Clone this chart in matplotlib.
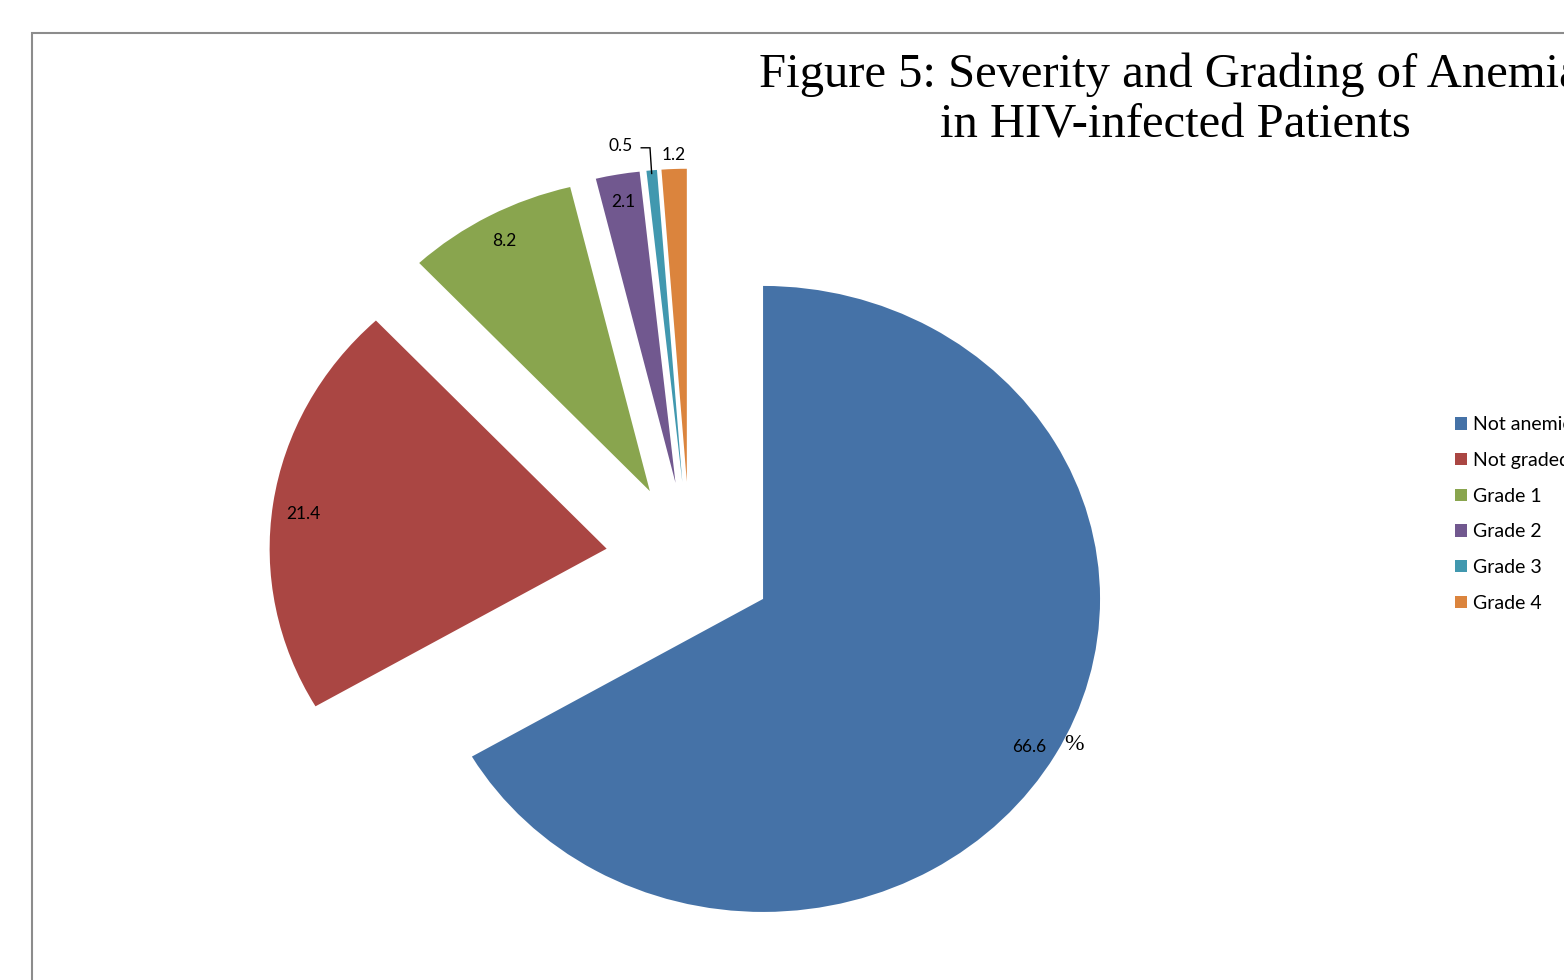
import numpy as np
import matplotlib
matplotlib.use("Agg")
from matplotlib import pyplot as plt
import matplotlib.patches as patches

# данные
categories = ["Not anemic", "Not graded", "Grade 1", "Grade 2", "Grade 3", "Grade 4"]
values = [66.6, 21.4, 8.2, 2.1, 0.5, 1.2]
colors = ["#4572A7", "#AA4643", "#89A54E", "#71588F", "#4198AF", "#DB843D"]
title_lines = ["Figure 5: Severity and Grading of Anemia", "in HIV-infected Patients"]

W, H = 1564, 980
fig = plt.figure(figsize=(W / 100, H / 100), dpi=100, facecolor="white")
ax = fig.add_axes([0, 0, 1, 1])

wedges, texts, autotexts = ax.pie(
    values, colors=colors, startangle=90, counterclock=False,
    explode=[0.25] * len(values), autopct=lambda p: f"{p:.1f}",
    pctdistance=0.91, textprops=dict(fontsize=12.5, family="Lato", color="black"),
    wedgeprops=dict(linewidth=0))

# эллипс как в Excel
ax.set_aspect("auto")
ax.set_xlim(-2.0475, 2.5935)
ax.set_ylim(-1.342, 1.789)
ax.axis("off")

# подписи маленьких секторов вынесены наружу
def wedge_point(w, r, dtheta=0.0):
    mid = np.radians((w.theta1 + w.theta2) / 2 + dtheta)
    return w.center[0] + r * np.cos(mid), w.center[1] + r * np.sin(mid)

# чуть сдвигаем две крупные подписи вниз, как в оригинале
for i in (0, 1):
    x, y = autotexts[i].get_position()
    autotexts[i].set_position((x, y - 0.02))

# Grade 4
autotexts[5].set_position(wedge_point(wedges[5], 1.045))
# Grade 3 с выноской
tx, ty = wedge_point(wedges[4], 1.0)
lx, ly = tx - 0.091, ty + 0.077
autotexts[4].set_position((lx, ly))
ax.plot([lx + 0.06, tx - 0.005, tx], [ly - 0.005, ly - 0.005, ty - 0.01],
        color="black", linewidth=1, solid_joinstyle="miter")

# знак процента возле 66.6
ax.annotate("%", xy=autotexts[0].get_position(), xytext=(45, 3),
            textcoords="offset pixels", ha="center", va="center",
            fontsize=17, family="Liberation Serif")

# заголовок
fig.text(1170 / W, 1 - 87 / H, title_lines[0], ha="center", va="baseline",
         fontsize=35, family="Liberation Serif")
fig.text(1175 / W, 1 - 138 / H, title_lines[1], ha="center", va="baseline",
         fontsize=35, family="Liberation Serif")

# легенда
fig.legend(wedges, categories, loc="center left",
           bbox_to_anchor=(1455 / W, 1 - 514 / H), bbox_transform=fig.transFigure,
           frameon=False, prop=dict(family="Lato", size=14),
           handlelength=0.6, handleheight=0.6, handletextpad=0.33,
           labelspacing=0.96, borderpad=0, borderaxespad=0)

# рамка области диаграммы
frame = patches.Rectangle((32 / W, -0.1), 1.2, 1.1 - 33 / H, transform=fig.transFigure,
                          fill=False, edgecolor="#8c8c8c", linewidth=1.5)
fig.add_artist(frame)

fig.savefig("out.png", dpi=100)
